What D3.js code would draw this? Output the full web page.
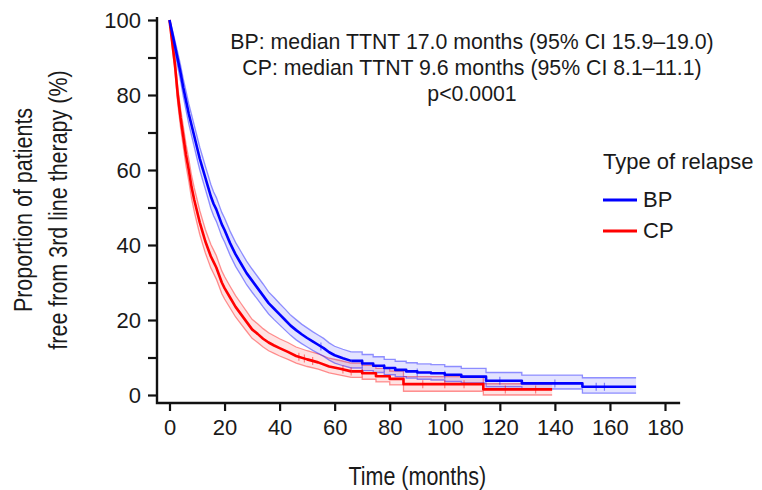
<!DOCTYPE html>
<head>
<style>
body { margin: 0; background: #fff; }
text { font-family: "Liberation Sans", Arial, sans-serif; fill: #1a1a1a; }
.tick line { stroke: #111; stroke-width: 2.2px; }
.tick text { font-size: 22px; }
.axis-title { font-size: 25px; }
.note { font-size: 21.3px; }
.legend text { font-size: 22px; }
</style>
<meta charset="utf-8">
<title></title>
</head>

<body>
<script src="https://d3js.org/d3.v7.min.js"></script>

<script>
// Kaplan-Meier estimates (time in months, proportion in %)
var bpTime = [0,1,2,3,4,5,6,7,8,9,10,11,12,13,14,15,16,17,18,19,20,22,24,26,28,30,32,34,36,38,40,42,44,46,48,50,52,54,56,58,60,63,66,70,74,78,82,86,90,95,100,106,115,128,150,169.5];
var bpEst  = [100,96.5,93,89.5,86,82,78.5,75,72,69,66,63,60.5,58,55.5,53,51,49.5,47.5,45.5,44,40.5,37.5,35,32.5,30.5,28.5,26.5,24.5,23,21.5,20,18.5,17.3,16.2,15.2,14.3,13.4,12.5,11.4,10.6,9.8,9.1,8.4,7.8,7.2,6.7,6.3,6.0,5.8,5.4,4.9,3.8,3.1,2.2,2.2];
var bpLow  = [100,95.5,91.5,87.5,83.8,79.6,75.9,72.3,69.2,66.1,63,60,57.4,54.9,52.4,49.8,47.8,46.3,44.3,42.3,40.8,37.3,34.3,31.9,29.4,27.4,25.5,23.5,21.6,20.1,18.7,17.3,15.9,14.7,13.7,12.8,11.9,11.1,10.3,9.3,8.5,7.8,7.2,6.5,6.0,5.4,4.9,4.5,4.2,4.0,3.6,3.2,2.2,1.6,0.5,0.5];
var bpHigh = [100,97.5,94.5,91.3,88,84.3,81,77.7,74.8,71.9,69,66.1,63.6,61.1,58.7,56.2,54.2,52.7,50.7,48.7,47.2,43.7,40.7,38.2,35.7,33.6,31.6,29.6,27.5,26,24.4,22.9,21.3,20.1,18.9,17.9,16.9,16,15.1,13.9,13,12.2,11.5,10.8,10.2,9.5,9.0,8.6,8.3,8.1,7.6,7.1,6.0,5.3,4.6,4.6];

var cpTime = [0,1,2,3,4,5,6,7,8,9,10,11,12,13,14,15,16,17,18,19,20,22,24,26,28,30,32,34,36,38,40,43,46,50,54,58,62,66,70,75,80,85,114,139];
var cpEst  = [100,94,88,80,74,69,64,60,55.5,52,49,46,43.5,41,39,37,35.5,34,32,30,28.5,26,23.5,21.5,19.5,17.5,16.3,15,14,13.2,12.5,11.5,10.4,9.5,8.7,7.6,7,6.3,5.8,5,4.3,2.9,1.5,1.5];
var cpLow  = [100,92.7,86.1,77.7,71.4,66.2,61.1,57,52.4,48.9,45.8,42.8,40.3,37.9,35.9,33.9,32.4,30.9,29,27,25.6,23.2,20.8,18.9,17,15.1,14,12.8,11.8,11.1,10.4,9.5,8.5,7.6,6.9,5.9,5.3,4.7,4.2,3.5,2.7,1.0,0,0];
var cpHigh = [100,95.2,89.8,82.2,76.5,71.7,66.9,63,58.6,55.2,52.2,49.2,46.7,44.2,42.2,40.2,38.7,37.2,35.1,33.1,31.6,29,26.5,24.4,22.3,20.2,19,17.7,16.6,15.8,15,14,12.8,11.8,11,9.8,9.2,8.5,7.9,7.1,6.4,4.9,3.0,3.0];

// censored observations (months)
var bpCensor = [55,70,78,90,100,120,140,155,158];
var cpCensor = [47,49,52,63,66,70,92,100,107,122,133];

var xTicks = [0,20,40,60,80,100,120,140,160,180];
var yTicks = [0,10,20,30,40,50,60,70,80,90,100];

var groups = ["BP","CP"];
var colors = {BP: "#0000ff", CP: "#ff0000"};
var notes = ["BP: median TTNT 17.0 months (95% CI 15.9\u201319.0)",
             "CP: median TTNT 9.6 months (95% CI 8.1\u201311.1)",
             "p<0.0001"];

var width = 762, height = 490;

var svg = d3.select("body").append("svg")
    .attr("width", width)
    .attr("height", height);

var x = d3.scaleLinear().domain([0, 180]).range([169.5, 665]);
var y = d3.scaleLinear().domain([0, 100]).range([395, 20]);

var axisX = 157, axisY = 403;
// dense early part drawn smooth, sparse tail drawn as steps
var stepFrom = 66;

function rows(t, est, lo, hi) {
    return t.map(function(d, i) { return {t: d, est: est[i], lo: lo[i], hi: hi[i]}; });
}
var series = [
    {name: "CP", data: rows(cpTime, cpEst, cpLow, cpHigh), censor: cpCensor},
    {name: "BP", data: rows(bpTime, bpEst, bpLow, bpHigh), censor: bpCensor}
];

function parts(data) {
    return [
        {curve: d3.curveLinear, data: data.filter(function(d) { return d.t <= stepFrom; })},
        {curve: d3.curveStepAfter, data: data.filter(function(d) { return d.t >= stepFrom; })}
    ];
}
function bandGen(curve) {
    return d3.area().curve(curve)
        .x(function(d) { return x(d.t); })
        .y0(function(d) { return y(d.lo); })
        .y1(function(d) { return y(d.hi); });
}
function lineGen(curve, key) {
    return d3.line().curve(curve)
        .x(function(d) { return x(d.t); })
        .y(function(d) { return y(d[key]); });
}

var plot = svg.append("g");
series.forEach(function(s) {
    var c = colors[s.name];
    parts(s.data).forEach(function(p) {
        plot.append("path").datum(p.data).attr("d", bandGen(p.curve))
            .attr("fill", c).attr("fill-opacity", 0.11);
        ["lo", "hi"].forEach(function(k) {
            plot.append("path").datum(p.data).attr("d", lineGen(p.curve, k))
                .attr("fill", "none").attr("stroke", c)
                .attr("stroke-opacity", 0.42).attr("stroke-width", 1.3);
        });
    });
});
series.forEach(function(s) {
    var c = colors[s.name];
    var bis = d3.bisector(function(d) { return d.t; }).right;
    function at(t) {
        var i = bis(s.data, t) - 1;
        var a = s.data[i], b = s.data[Math.min(i + 1, s.data.length - 1)];
        if (t >= stepFrom || b.t === a.t) return a.est;
        return a.est + (b.est - a.est) * (t - a.t) / (b.t - a.t);
    }
    plot.selectAll(null).data(s.censor).enter().append("line")
        .attr("x1", function(d) { return x(d); })
        .attr("x2", function(d) { return x(d); })
        .attr("y1", function(d) { return y(at(d)) - 4; })
        .attr("y2", function(d) { return y(at(d)) + 4; })
        .attr("stroke", c).attr("stroke-opacity", 0.45).attr("stroke-width", 1.2);
    parts(s.data).forEach(function(p) {
        plot.append("path").datum(p.data).attr("d", lineGen(p.curve, "est"))
            .attr("fill", "none").attr("stroke", c).attr("stroke-width", 2.6)
            .attr("stroke-linejoin", "round");
    });
});

// axes
var gx = svg.append("g").attr("transform", "translate(0," + axisY + ")")
    .call(d3.axisBottom(x).tickValues(xTicks).tickSize(8).tickSizeOuter(0).tickPadding(8));
gx.select(".domain").remove();
var gy = svg.append("g").attr("transform", "translate(" + axisX + ",0)")
    .call(d3.axisLeft(y).tickValues(yTicks).tickSize(9).tickSizeOuter(0).tickPadding(7)
        .tickFormat(function(d) { return d % 20 === 0 ? d : ""; }));
gy.select(".domain").remove();
svg.selectAll(".tick text").attr("fill", "#1a1a1a");

svg.append("path")
    .attr("d", "M" + axisX + "," + y(100.8) + "V" + axisY + "H" + x(185.5))
    .attr("fill", "none").attr("stroke", "#111").attr("stroke-width", 2.4);

// axis titles, squeezed horizontally to look condensed
svg.append("text").attr("class", "axis-title")
    .attr("transform", "translate(" + (x(0) + x(180)) / 2 + ",485) scale(0.86,1)")
    .attr("text-anchor", "middle").text("Time (months)");
var yt = svg.append("text").attr("class", "axis-title")
    .attr("transform", "translate(0,210) rotate(-90) scale(0.86,1)")
    .attr("text-anchor", "middle");
yt.append("tspan").attr("x", 0).attr("y", 32).text("Proportion of patients");
yt.append("tspan").attr("x", 0).attr("y", 67).text("free from 3rd line therapy (%)");

// annotation
svg.selectAll(".note").data(notes).enter().append("text")
    .attr("class", "note")
    .attr("x", 472).attr("y", function(d, i) { return 49 + i * 26; })
    .attr("text-anchor", "middle").text(function(d) { return d; });

// legend
var lg = svg.append("g").attr("class", "legend");
lg.append("text").attr("x", 603).attr("y", 169).text("Type of relapse");
groups.forEach(function(g, i) {
    var yy = 200 + i * 31;
    lg.append("line").attr("x1", 603).attr("x2", 637).attr("y1", yy).attr("y2", yy)
        .attr("stroke", colors[g]).attr("stroke-width", 3);
    lg.append("text").attr("x", 643).attr("y", yy + 7).text(g);
});
</script>
</body>
</html>
